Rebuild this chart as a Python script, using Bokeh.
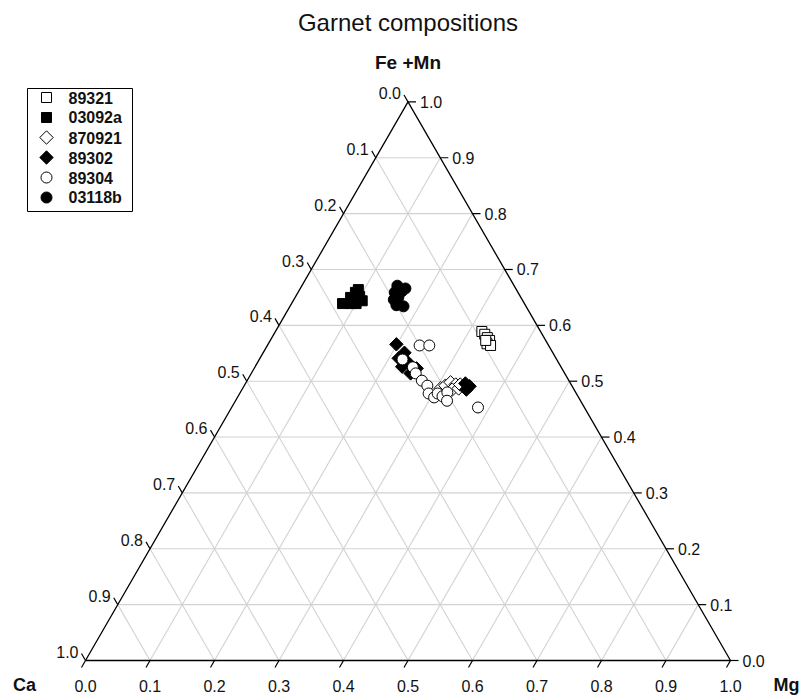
import math
from bokeh.plotting import figure
from bokeh.models import Range1d
from bokeh.core.properties import value
from bokeh.embed import file_html
from bokeh.resources import INLINE

# ---------------- data (fractions) ----------------
series_names = ["89321", "03092a", "870921", "89302", "89304", "03118b"]

femn_89321 = [0.589, 0.584, 0.578, 0.573, 0.567, 0.564, 0.573]
mg_89321 = [0.320, 0.327, 0.334, 0.340, 0.339, 0.346, 0.334]

femn_03092a = [0.639, 0.650, 0.659, 0.664, 0.652, 0.639, 0.639, 0.644]
mg_03092a = [0.079, 0.086, 0.089, 0.091, 0.099, 0.100, 0.092, 0.107]

femn_870921 = [0.487, 0.492, 0.498, 0.494, 0.485, 0.487, 0.494]
mg_870921 = [0.307, 0.312, 0.317, 0.327, 0.326, 0.335, 0.334]

femn_89302 = [0.566, 0.551, 0.541, 0.533, 0.526, 0.523, 0.514, 0.496, 0.491, 0.485]
mg_89302 = [0.199, 0.219, 0.215, 0.234, 0.228, 0.252, 0.247, 0.341, 0.350, 0.348]

femn_89304 = [0.564, 0.564, 0.539, 0.525, 0.514, 0.501, 0.492, 0.478, 0.471, 0.478, 0.473, 0.480, 0.465, 0.453]
mg_89304 = [0.236, 0.251, 0.222, 0.245, 0.255, 0.271, 0.284, 0.293, 0.305, 0.307, 0.317, 0.321, 0.328, 0.382]

femn_03118b = [0.671, 0.666, 0.659, 0.646, 0.636, 0.634, 0.650, 0.661]
mg_03118b = [0.148, 0.163, 0.150, 0.155, 0.164, 0.176, 0.160, 0.160]

tick_values = [0.0, 0.1, 0.2, 0.3, 0.4, 0.5, 0.6, 0.7, 0.8, 0.9, 1.0]
tick_labels = ["0.0", "0.1", "0.2", "0.3", "0.4", "0.5", "0.6", "0.7", "0.8", "0.9", "1.0"]

# ---------------- layout ----------------
W, H = 805, 697
X0, Y0, SIDE = 85.0, 660.0, 645.0   # pixel position of Ca corner and side length
S3 = math.sqrt(3) / 2
FONT = value("Liberation Sans")


def to_xy(femn, mg):
    xs = [m + f / 2 for f, m in zip(femn, mg)]
    ys = [f * S3 for f in femn]
    return xs, ys


def px(d):
    return d / SIDE


def pix2d(x, y):
    return (x - X0) / SIDE, (Y0 - y) / SIDE


p = figure(width=W, height=H, output_backend="svg", toolbar_location=None,
           x_axis_type=None, y_axis_type=None, min_border=0,
           x_range=Range1d(-X0 / SIDE, (W - X0) / SIDE),
           y_range=Range1d((Y0 - H) / SIDE, Y0 / SIDE))
p.outline_line_color = None
p.background_fill_color = "white"
p.border_fill_color = "white"

# ---------------- grid lines ----------------
gx0, gy0, gx1, gy1 = [], [], [], []
for v in tick_values[1:-1]:
    a = to_xy([v], [0.0]); b = to_xy([v], [1 - v])
    gx0.append(a[0][0]); gy0.append(a[1][0]); gx1.append(b[0][0]); gy1.append(b[1][0])
    a = to_xy([0.0], [v]); b = to_xy([1 - v], [v])
    gx0.append(a[0][0]); gy0.append(a[1][0]); gx1.append(b[0][0]); gy1.append(b[1][0])
    a = to_xy([0.0], [1 - v]); b = to_xy([1 - v], [0.0])
    gx0.append(a[0][0]); gy0.append(a[1][0]); gx1.append(b[0][0]); gy1.append(b[1][0])
p.segment(gx0, gy0, gx1, gy1, line_color="#d2d2d2", line_width=1.1)

# ---------------- triangle ----------------
p.line([0, 1, 0.5, 0], [0, 0, S3, 0], line_color="black", line_width=1.3)

# ---------------- ticks and tick labels ----------------
tl = 8.0
tx0, ty0, tx1, ty1 = [], [], [], []
bx, by, rx, ry, lx, ly = [], [], [], [], [], []
for v in tick_values:
    x, y = v, 0.0
    tx0.append(x); ty0.append(y)
    tx1.append(x - px(tl * 0.5)); ty1.append(y - px(tl * S3))
    bx.append(x); by.append(-px(25))
    x, y = 1 - v / 2, v * S3
    tx0.append(x); ty0.append(y)
    tx1.append(x + px(tl)); ty1.append(y)
    rx.append(x + px(tl + 4)); ry.append(y)
    x, y = (1 - v) / 2, (1 - v) * S3
    tx0.append(x); ty0.append(y)
    tx1.append(x - px(tl * 0.5)); ty1.append(y + px(tl * S3))
    lx.append(x - px(tl * 0.5 + 3)); ly.append(y + px(tl * S3 + 2))
p.segment(tx0, ty0, tx1, ty1, line_color="black", line_width=1.2)

for xs_, ys_, al in ((bx, by, "center"), (rx, ry, "left"), (lx, ly, "right")):
    p.text(xs_, ys_, text=tick_labels, text_font=FONT, text_font_size="16px",
           text_align=al, text_baseline="middle", text_color="#111111")

# ---------------- titles ----------------
tx, ty = pix2d(407.5, 22)
p.text([tx], [ty], text=["Garnet compositions"], text_font=FONT, text_font_size="24px",
       text_align="center", text_baseline="middle", text_color="#111111")
ax_, ay_ = pix2d(407.5, 62)
p.text([ax_], [ay_], text=["Fe +Mn"], text_font=FONT, text_font_size="19px",
       text_font_style="bold", text_align="center", text_baseline="middle", text_color="#111111")
cx, cy = pix2d(24, 684)
p.text([cx], [cy], text=["Ca"], text_font=FONT, text_font_size="18px",
       text_font_style="bold", text_align="center", text_baseline="middle", text_color="#111111")
mx, my = pix2d(786, 684)
p.text([mx], [my], text=["Mg"], text_font=FONT, text_font_size="18px",
       text_font_style="bold", text_align="center", text_baseline="middle", text_color="#111111")

# ---------------- data points ----------------
styles = {
    "89321": dict(marker="square", size=10, fill_color="white", angle=0),
    "03092a": dict(marker="square", size=10, fill_color="black", angle=0),
    "870921": dict(marker="square", size=9.5, fill_color="white", angle=math.pi / 4),
    "89302": dict(marker="square", size=9.5, fill_color="black", angle=math.pi / 4),
    "89304": dict(marker="circle", size=11, fill_color="white", angle=0),
    "03118b": dict(marker="circle", size=11, fill_color="black", angle=0),
}
data = {
    "89321": (femn_89321, mg_89321),
    "03092a": (femn_03092a, mg_03092a),
    "870921": (femn_870921, mg_870921),
    "89302": (femn_89302, mg_89302),
    "89304": (femn_89304, mg_89304),
    "03118b": (femn_03118b, mg_03118b),
}
for name in series_names:
    f, m = data[name]
    xs, ys = to_xy(f, m)
    st = styles[name]
    p.scatter(xs, ys, marker=st["marker"], size=st["size"], angle=st["angle"],
              fill_color=st["fill_color"], line_color="black", line_width=1)

# ---------------- legend (drawn by hand) ----------------
l, t = pix2d(27, 88)
r, b = pix2d(132, 211)
p.quad(left=[l], right=[r], top=[t], bottom=[b], fill_color="white",
       line_color="black", line_width=1)
for i, name in enumerate(series_names):
    mxp, myp = pix2d(46, 97 + 20 * i)
    st = styles[name]
    p.scatter([mxp], [myp], marker=st["marker"], size=st["size"], angle=st["angle"],
              fill_color=st["fill_color"], line_color="black", line_width=1)
    lxp, lyp = pix2d(68, 97 + 20 * i)
    p.text([lxp], [lyp], text=[name], text_font=FONT, text_font_size="16px",
           text_font_style="bold", text_align="left", text_baseline="middle",
           text_color="#111111")

open("out.html", "w").write(file_html(p, INLINE))
